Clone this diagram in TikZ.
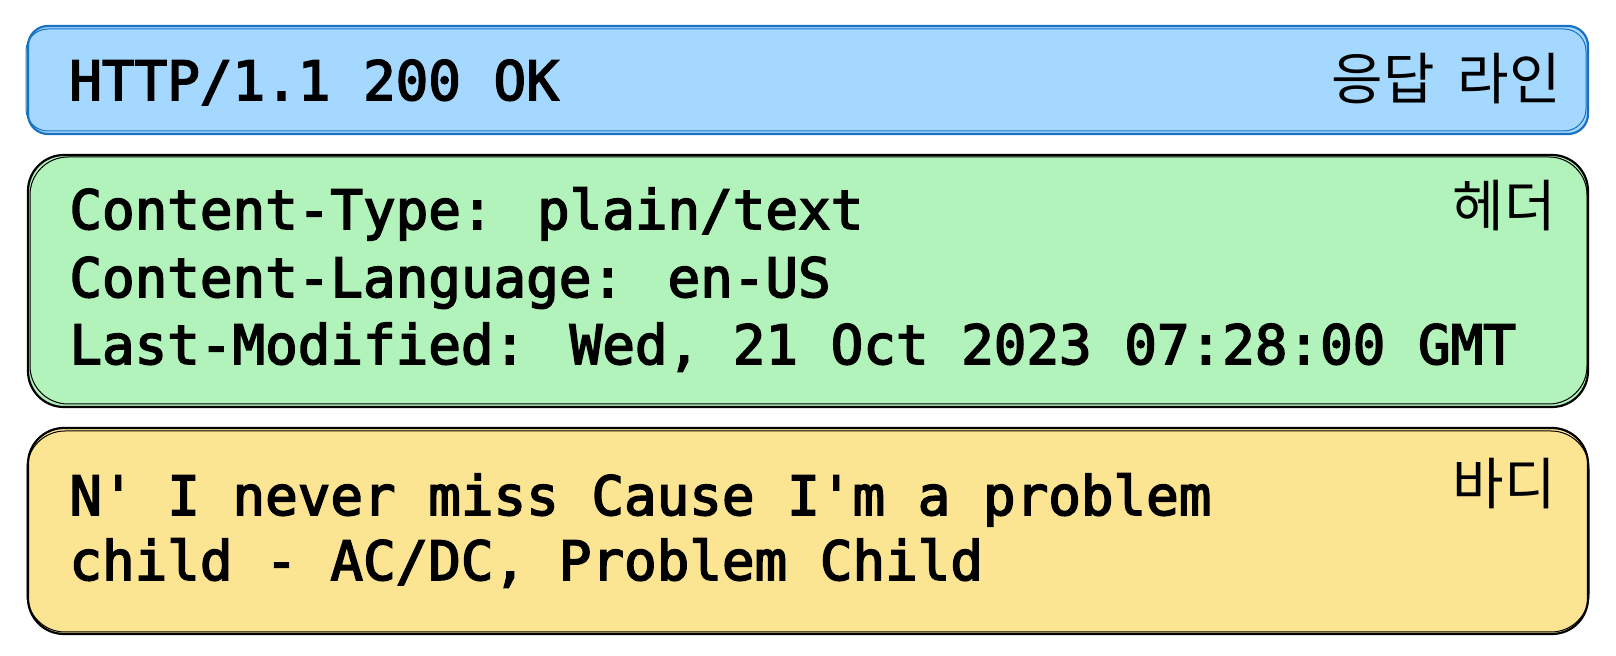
\documentclass[tikz,border=0pt]{standalone}
\usepackage{fontspec}
\newfontfamily\codefont[FakeBold=3]{DejaVu Sans Mono}
\newfontfamily\krfont{Noto Sans CJK KR}
\usetikzlibrary{positioning}
\definecolor{linefill}{HTML}{A5D8FF}
\definecolor{linedraw}{HTML}{1971C2}
\definecolor{headfill}{HTML}{B2F2BB}
\definecolor{bodyfill}{HTML}{FCE592}

\begin{document}
\begin{tikzpicture}[x=0.5pt,y=-0.5pt,
  part/.style={line width=1.1pt},
  sketch/.style={line width=0.5pt},
  code/.style={font=\codefont\fontsize{27.1}{33}\selectfont,anchor=base west,inner sep=0pt},
  tag/.style={font=\krfont\fontsize{28}{32}\selectfont,anchor=base east,inner sep=0pt}]
\useasboundingbox (0,0) rectangle (1616,656);
% the three parts of the response
\draw[part,fill=linefill,draw=linedraw,rounded corners=10pt] (28,26) rectangle (1588,134);
\draw[sketch,draw=linedraw,rounded corners=11pt] (26,29) rectangle (1586,131);
\draw[part,fill=headfill,rounded corners=18pt] (28,155) rectangle (1588,407);
\draw[sketch,rounded corners=19pt] (30,157) rectangle (1587,404);
\draw[part,fill=bodyfill,rounded corners=18pt] (28,428) rectangle (1588,634);
\draw[sketch,rounded corners=19pt] (27,431) rectangle (1589,632);
% status line
\node[code] (status) at (69,100) {HTTP/1.1 200 OK};
\node[tag] (statustag) at (1561,100) {응답\hspace{0.18em} 라인};
% headers
\node[code] (ctype) at (69,229) {Content-Type: plain/text};
\node[code] (clang) at (69,297) {Content-Language: en-US};
\node[code] (lastmod) at (69,364) {Last-Modified: Wed, 21 Oct 2023 07:28:00 GMT};
\node[tag] (headtag) at (1556,227) {헤더};
% body
\node[code] (bodya) at (69,515) {N' I never miss Cause I'm a problem};
\node[code] (bodyb) at (69,580) {child - AC/DC, Problem Child};
\node[tag] (bodytag) at (1556,505) {바디};
\end{tikzpicture}
\end{document}
